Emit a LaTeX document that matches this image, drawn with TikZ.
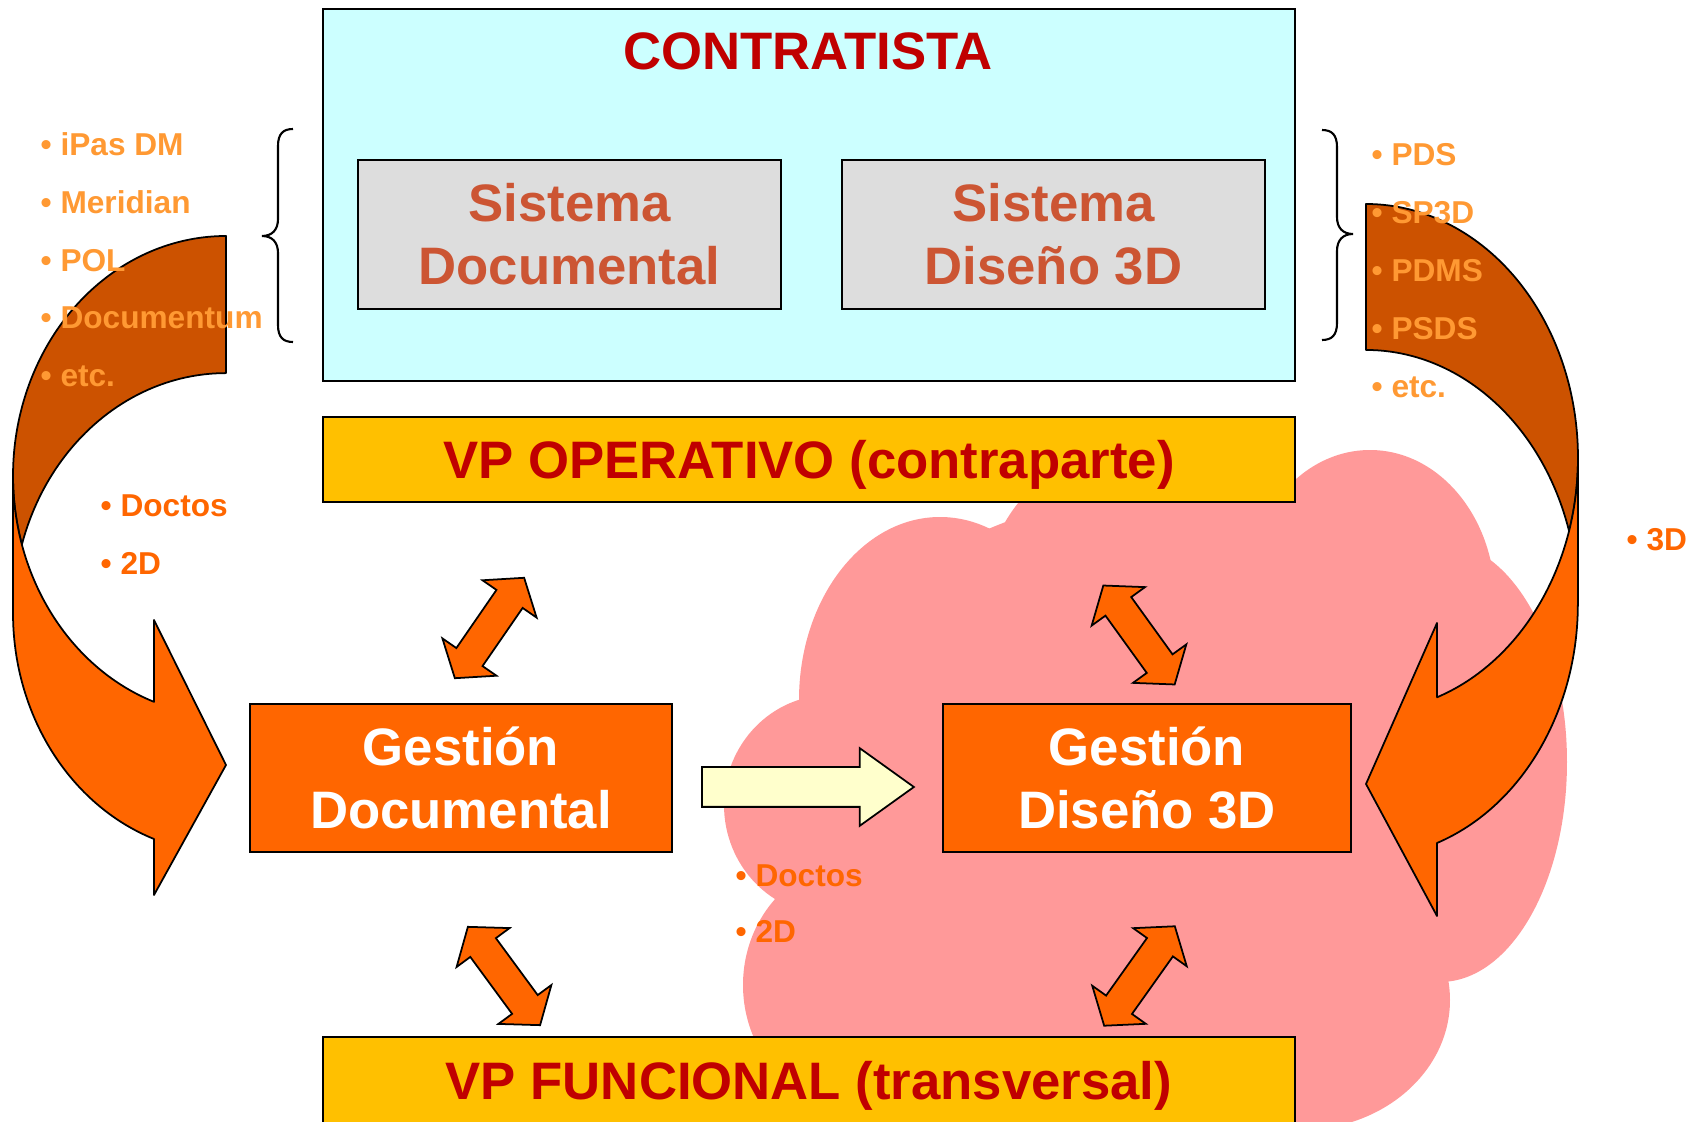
\documentclass[tikz,border=0pt]{standalone}
\usepackage{fontspec}
\setmainfont{Liberation Sans}
\usetikzlibrary{shapes,arrows,positioning,calc}

\definecolor{cyanbox}{HTML}{CCFFFF}
\definecolor{darkred}{HTML}{C00000}
\definecolor{sienna}{HTML}{CC5533}
\definecolor{gold}{HTML}{FFC000}
\definecolor{deeporange}{HTML}{FF6600}
\definecolor{darkband}{RGB}{204,82,0}
\definecolor{lightorange}{HTML}{FF9933}
\definecolor{cloudpink}{HTML}{FF9999}
\definecolor{paleyellow}{HTML}{FFFFCC}
\definecolor{boxgray}{HTML}{DDDDDD}

\begin{document}
\begin{tikzpicture}[x=0.1mm, y=-0.1mm,
    bigtext/.style={font=\bfseries\fontsize{15}{18}\selectfont},
    smalltext/.style={anchor=base west, inner sep=0pt, font=\bfseries\fontsize{9}{11}\selectfont},
    box/.style={draw, line width=0.8pt, inner sep=0pt, align=center, bigtext},
    band/.style={draw, line width=0.5pt, line join=round},
    twoway/.style={double arrow, draw, fill=deeporange, line width=0.5pt, inner xsep=0pt, inner ysep=1.5mm,
        minimum height=12.2mm, double arrow head extend=1.7mm, double arrow tip angle=104}]
    \useasboundingbox (0,0) rectangle (1706,1122);

    % cloud
    \foreach \cx/\cy/\rx/\ry in {940/700/14.1/18.3, 830/805/10.6/11, 860/985/11.7/12.5,
        1100/620/12/16, 1240/615/12/13, 1370/600/12.5/15, 1440/762/12.7/22,
        1300/1000/15/13, 1130/800/33/30}
        \fill[cloudpink] (\cx,\cy) ellipse[x radius=\rx mm, y radius=\ry mm];

    % left curved arrow
    \draw[band, fill=darkband] (226,236) arc[start angle=90, end angle=196.6, x radius=21.3mm, y radius=24mm]
        arc[start angle=163.4, end angle=90, x radius=21.3mm, y radius=24mm] -- cycle;
    \draw[band, fill=deeporange] (13,476) arc[start angle=180, end angle=250.24, x radius=21.3mm, y radius=24mm]
        -- (154,620) -- (226,765) -- (154,895) -- (154,839)
        arc[start angle=250.24, end angle=180, x radius=21.3mm, y radius=24mm] -- cycle;

    % right curved arrow
    \draw[band, fill=darkband] (1366,204) arc[start angle=90, end angle=-16.7, x radius=21.2mm, y radius=25.4mm]
        arc[start angle=16.7, end angle=90, x radius=21.2mm, y radius=25.4mm] -- cycle;
    \draw[band, fill=deeporange] (1578,458) arc[start angle=0, end angle=-70.4, x radius=21.2mm, y radius=25.4mm]
        -- (1437,623) -- (1366,784) -- (1437,916) -- (1437,843)
        arc[start angle=-70.4, end angle=0, x radius=21.2mm, y radius=25.4mm] -- cycle;

    % contratista
    \node[box, fill=cyanbox, minimum width=97.2mm, minimum height=37.2mm] (contratista) at (809,195) {};
    \node[bigtext, text=darkred] (contratistaTitle) at (808,51) {CONTRATISTA};
    \node[box, fill=boxgray, text=sienna, minimum width=42.3mm, minimum height=14.9mm] (sisDoc) at (569.5,234.5) {Sistema\\Documental};
    \node[box, fill=boxgray, text=sienna, minimum width=42.3mm, minimum height=14.9mm] (sis3D) at (1053.5,234.5) {Sistema\\Diseño 3D};

    % vp boxes
    \node[box, fill=gold, text=darkred, text depth=0pt, minimum width=97.2mm, minimum height=8.5mm] (vpOp) at (809,459.5) {VP OPERATIVO (contraparte)};
    \node[box, fill=gold, text=darkred, text depth=0pt, minimum width=97.2mm, minimum height=8.7mm] (vpFun) at (809,1080.5) {VP FUNCIONAL (transversal)};

    % gestion
    \node[box, fill=deeporange, text=white, minimum width=42.2mm, minimum height=14.8mm] (gesDoc) at (461,778) {Gestión\\Documental};
    \node[box, fill=deeporange, text=white, minimum width=40.8mm, minimum height=14.8mm] (ges3D) at (1147,778) {Gestión\\Diseño 3D};

    % lists
    \foreach \txt [count=\i] in {iPas DM, Meridian, POL, Documentum, etc.}
        \node[smalltext, text=lightorange] (left\i) at (40,{156+57.6*(\i-1)}) {• \txt};
    \foreach \txt [count=\i] in {PDS, SP3D, PDMS, PSDS, etc.}
        \node[smalltext, text=lightorange] (right\i) at (1371,{166+58*(\i-1)}) {• \txt};
    \node[smalltext, text=deeporange] (docLeft) at (100,517) {• Doctos};
    \node[smalltext, text=deeporange] (twoDLeft) at (100,575) {• 2D};
    \node[smalltext, text=deeporange] (docMid) at (735,886) {• Doctos};
    \node[smalltext, text=deeporange] (twoDMid) at (735,943) {• 2D};
    \node[smalltext, text=deeporange] (threeD) at (1626,551) {• 3D};

    % braces
    \draw[line width=0.6pt] (293,129) .. controls (283,129) and (278,134) .. (278,146) -- (278,219)
        .. controls (278,230) and (272,236) .. (262,236) .. controls (272,236) and (278,242) .. (278,253)
        -- (278,325) .. controls (278,337) and (283,342) .. (293,342);
    \draw[line width=0.6pt] (1322,130) .. controls (1332,130) and (1337,135) .. (1337,147) -- (1337,217)
        .. controls (1337,228) and (1343,234) .. (1353,234) .. controls (1343,234) and (1337,240) .. (1337,251)
        -- (1337,323) .. controls (1337,335) and (1332,340) .. (1322,340);

    % two-way arrows
    \node[twoway, rotate=55.4] (opDoc) at (489.5,628) {};
    \node[twoway, rotate=-54.2] (op3D) at (1139,635) {};
    \node[twoway, rotate=-53.7] (funDoc) at (504,976) {};
    \node[twoway, rotate=54.6] (fun3D) at (1139.5,976) {};

    % doc to 3D
    \node[single arrow, draw, fill=paleyellow, line width=0.5pt, inner xsep=0pt, inner ysep=1.9mm, minimum height=21.2mm,
        single arrow head extend=1.9mm, single arrow tip angle=71.3, anchor=tail] (docTo3D) at (701,787) {};
\end{tikzpicture}
\end{document}
